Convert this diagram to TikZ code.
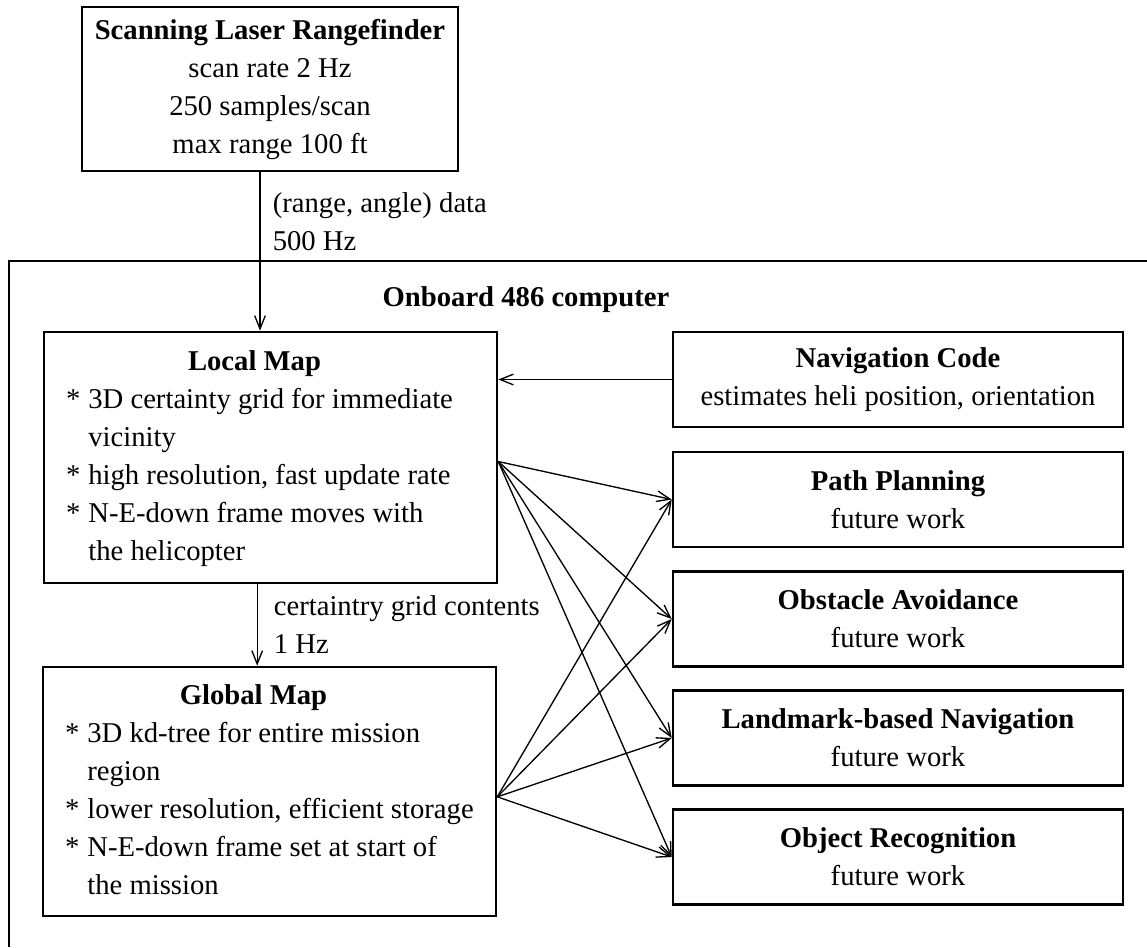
\documentclass[tikz,border=0pt]{standalone}
\usepackage{fontspec}
\setmainfont{Liberation Serif}
\usetikzlibrary{arrows.meta}

\tikzset{
  blk/.style={draw, line width=1.9pt, inner sep=0pt, align=center},
  sidebox/.style={blk, minimum width=337.5pt, minimum height=71.25pt},
  wire/.style={line width=1pt, -{Straight Barb[length=10pt,width=8pt]}},
}
\newcommand{\maptitle}[1]{\multicolumn{2}{@{}c@{\hspace{24pt}}}{\textbf{#1}}}

\begin{document}
\begin{tikzpicture}[x=0.75pt,y=0.75pt,yscale=-1,xscale=1]
  \fontsize{21.5}{28.5}\selectfont
  \useasboundingbox (0,0) rectangle (1147,947);

  % outer frame (onboard computer), runs off the page
  \draw [line width=1.5pt] (9,947) -- (9,261) -- (1147,261);
  \node (onboard) at (526,300) {\textbf{Onboard 486 computer}};

  % sensor
  \node [blk, minimum width=282pt, minimum height=123pt] (range) at (270,89)
    {\textbf{Scanning Laser Rangefinder}\\ scan rate 2 Hz\\ 250 samples/scan\\ max range 100 ft};

  % maps
  \node [blk, minimum width=339.75pt, minimum height=188.25pt] (local) at (270.5,457.5)
    {\begin{tabular}{@{}l@{\hspace{6pt}}p{290pt}@{}}
      \maptitle{Local Map}\\
      {*} & 3D certainty grid for immediate\\
          & vicinity\\
      {*} & high resolution, fast update rate\\
      {*} & N-E-down frame moves with\\
          & the helicopter
    \end{tabular}};
  \node [blk, minimum width=339.75pt, minimum height=186.75pt] (global) at (269.5,791.5)
    {\begin{tabular}{@{}l@{\hspace{6pt}}p{290pt}@{}}
      \maptitle{Global Map}\\
      {*} & 3D kd-tree for entire mission\\
          & region\\
      {*} & lower resolution, efficient storage\\
      {*} & N-E-down frame set at start of\\
          & the mission
    \end{tabular}};

  % right column
  \node [sidebox] (nav) at (898,379.5)
    {\textbf{Navigation Code}\\ estimates heli position, orientation};
  \node [sidebox] (path) at (898,499.5)
    {\textbf{Path Planning}\\ future work};
  \node [sidebox] (obst) at (898,619)
    {\textbf{Obstacle Avoidance}\\ future work};
  \node [sidebox] (land) at (898,738)
    {\textbf{Landmark-based Navigation}\\ future work};
  \node [sidebox] (objrec) at (898,857)
    {\textbf{Object Recognition}\\ future work};

  % data flow
  \coordinate (rangeout) at ([xshift=-7.5pt]range.south);
  \draw [wire] (rangeout) -- (rangeout |- local.north);
  \node [anchor=west, align=left] (rangelbl) at (263,222) {(range, angle) data\\ 500 Hz};

  \coordinate (localout) at ([xshift=-10pt]local.south);
  \draw [wire] (localout) -- (localout |- global.north);
  \node [anchor=west, align=left] (locallbl) at (264,625) {certaintry grid contents\\ 1 Hz};

  \draw [wire] (nav.west) -- (nav.west -| local.east);

  \foreach \t in {path,obst,land,objrec} {
    \draw [wire] ([yshift=3pt]local.east) -- (\t.west);
    \draw [wire] ([yshift=4pt]global.east) -- (\t.west);
  }

\end{tikzpicture}
\end{document}
